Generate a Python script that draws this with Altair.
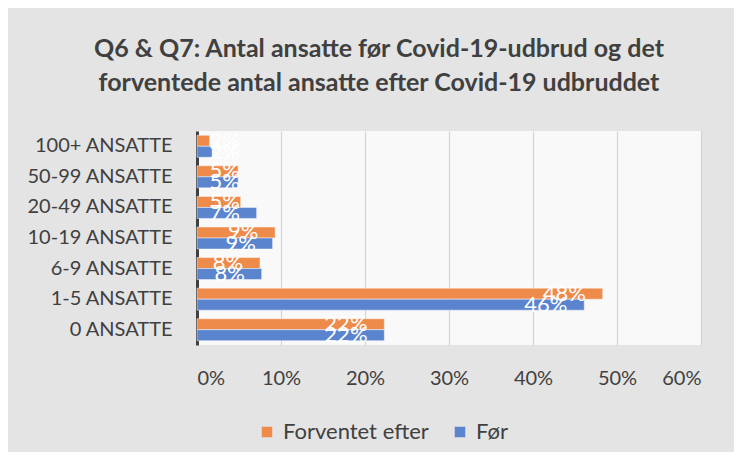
import altair as alt
import pandas as pd

categories = ["100+ ANSATTE", "50-99 ANSATTE", "20-49 ANSATTE", "10-19 ANSATTE",
              "6-9 ANSATTE", "1-5 ANSATTE", "0 ANSATTE"]
series = ["Forventet efter", "Før"]
efter = [0.015, 0.049, 0.052, 0.093, 0.075, 0.483, 0.223]
foer = [0.018, 0.049, 0.071, 0.090, 0.077, 0.461, 0.223]
efter_labels = ["2%", "5%", "5%", "9%", "8%", "48%", "22%"]
foer_labels = ["2%", "5%", "7%", "9%", "8%", "46%", "22%"]
colors = ["#EE8A4A", "#5B84CE"]
x_ticks = [0, 0.1, 0.2, 0.3, 0.4, 0.5, 0.6]

rows = []
for c, v, l in zip(categories, efter, efter_labels):
    rows.append({"cat": c, "serie": series[0], "value": v, "label": l})
for c, v, l in zip(categories, foer, foer_labels):
    rows.append({"cat": c, "serie": series[1], "value": v, "label": l})
df = pd.DataFrame(rows)

FONT = "Lato"
TXT = "#404040"

y_enc = alt.Y("cat:N", sort=categories, title=None,
              scale=alt.Scale(paddingInner=0.28, paddingOuter=0.14),
              axis=alt.Axis(labelFont=FONT, labelFontSize=20, labelColor=TXT,
                            labelPadding=25, ticks=False, domainColor="#404040",
                            domainWidth=3, grid=False))
yoff = alt.YOffset("serie:N", sort=series)

bars = alt.Chart(df).mark_bar(stroke="#ffffff", strokeOpacity=0.45, strokeWidth=1).encode(
    x=alt.X("value:Q", title=None,
            scale=alt.Scale(domain=[0, 0.6], nice=False),
            axis=alt.Axis(values=x_ticks, format=".0%", labelFont=FONT, labelFontSize=20,
                          labelColor=TXT, labelPadding=23, ticks=False, domain=False,
                          grid=True, gridColor="#d4d4d4", gridWidth=1.2)),
    y=y_enc,
    yOffset=yoff,
    color=alt.Color("serie:N", sort=series,
                    scale=alt.Scale(domain=series, range=colors),
                    legend=alt.Legend(title=None, orient="none", legendX=59, legendY=290,
                                      direction="horizontal", symbolType="square",
                                      symbolSize=110, symbolStrokeWidth=0,
                                      labelFont=FONT, labelFontSize=22, labelColor=TXT,
                                      labelOffset=5, columnPadding=20)),
)

labels = alt.Chart(df).transform_calculate(
    lx="max(datum.value - 0.02, 0.051)"
).mark_text(align="right", baseline="middle", color="white", font=FONT,
            fontSize=22).encode(
    x=alt.X("lx:Q"),
    y=alt.Y("cat:N", sort=categories),
    yOffset=yoff,
    text="label:N",
)

chart = alt.layer(bars, labels).properties(
    width=504,
    height=214,
    autosize=alt.AutoSizeParams(type="none"),
    padding={"left": 189, "top": 123, "right": 33, "bottom": 107},
    background="#e4e4e4",
    title=alt.TitleParams(
        text=["Q6 & Q7: Antal ansatte før Covid-19-udbrud og det",
              "forventede antal ansatte efter Covid-19 udbruddet"],
        font=FONT, fontSize=25, fontWeight="bold", color=TXT,
        anchor="middle", dx=-70, offset=34, lineHeight=34),
).configure_view(
    stroke=None,
    fill="#f9f9f9",
)

chart.save("out.html", embed_options={"renderer": "svg", "actions": False})
